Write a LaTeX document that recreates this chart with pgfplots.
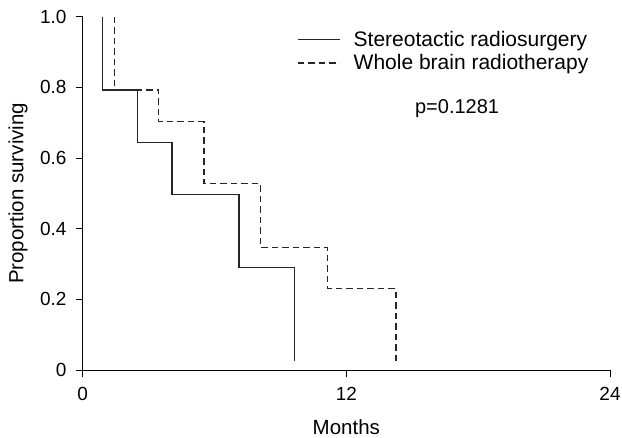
\documentclass[border=0pt]{standalone}
\usepackage{fontspec}
\setmainfont{Liberation Sans}
\usepackage{pgfplots}
\pgfplotsset{compat=1.18}

\begin{document}
\begin{tikzpicture}
\begin{axis}[
  at={(0,0)}, anchor=south west,
  scale only axis,
  width=527.3bp, height=353.3bp,
  xmin=0, xmax=24, ymin=0, ymax=1,
  axis x line=bottom, axis y line=left,
  axis line style={-, line width=0.9bp, black},
  tick align=outside,
  major tick length=7bp,
  tick style={line width=0.9bp, black},
  xtick={0,12,24}, xticklabels={0,12,24},
  ytick={0,0.2,0.4,0.6,0.8,1.0},
  yticklabels={0,0.2,0.4,0.6,0.8,1.0},
  /pgf/number format/assume math mode=true,
  ticklabel style={font=\fontsize{19bp}{22bp}\selectfont, inner sep=0pt},
  xticklabel style={anchor=north, yshift=-10bp},
  yticklabel style={anchor=east, xshift=-9bp},
  xlabel={Months},
  ylabel={Proportion surviving},
  label style={font=\fontsize{20.5bp}{24bp}\selectfont},
  xlabel style={at={(axis description cs:0.5,0)}, anchor=center, yshift=-57bp},
  ylabel style={at={(axis description cs:0,0.5)}, anchor=center, yshift=64.7bp},
  legend style={draw=none, fill=none, inner sep=0pt,
    font=\fontsize{21bp}{24bp}\selectfont,
    at={(axis cs:9.75,0.966)}, anchor=north west,
    row sep=3bp,
    cells={anchor=west}},
  legend image code/.code={\draw[#1] (0bp,0bp) -- (42bp,0bp); \path[draw=none] (0bp,0bp) -- (54bp,0bp);},
  every axis plot/.append style={line width=1.2bp, black!85},
]
% Stereotactic radiosurgery
\addplot[const plot, solid] coordinates {
  (0.91,1.000) (0.91,0.7925) (2.50,0.643) (4.06,0.497) (7.11,0.291) (9.65,0.025)
};
\addlegendentry{Stereotactic radiosurgery}
% Whole brain radiotherapy
\addplot[const plot, dash pattern=on 6.5bp off 4bp] coordinates {
  (1.44,1.000) (1.44,0.7925) (3.46,0.703) (5.52,0.527) (8.10,0.346) (11.15,0.230) (14.26,0.025)
};
\addlegendentry{Whole brain radiotherapy}
\node[font=\fontsize{20bp}{24bp}\selectfont, anchor=center] at (axis cs:17.04,0.74) {p=0.1281};
\end{axis}
\pgfresetboundingbox
\path (-82.7bp,-68bp) rectangle (539.3bp,370bp);
\end{tikzpicture}
\end{document}
